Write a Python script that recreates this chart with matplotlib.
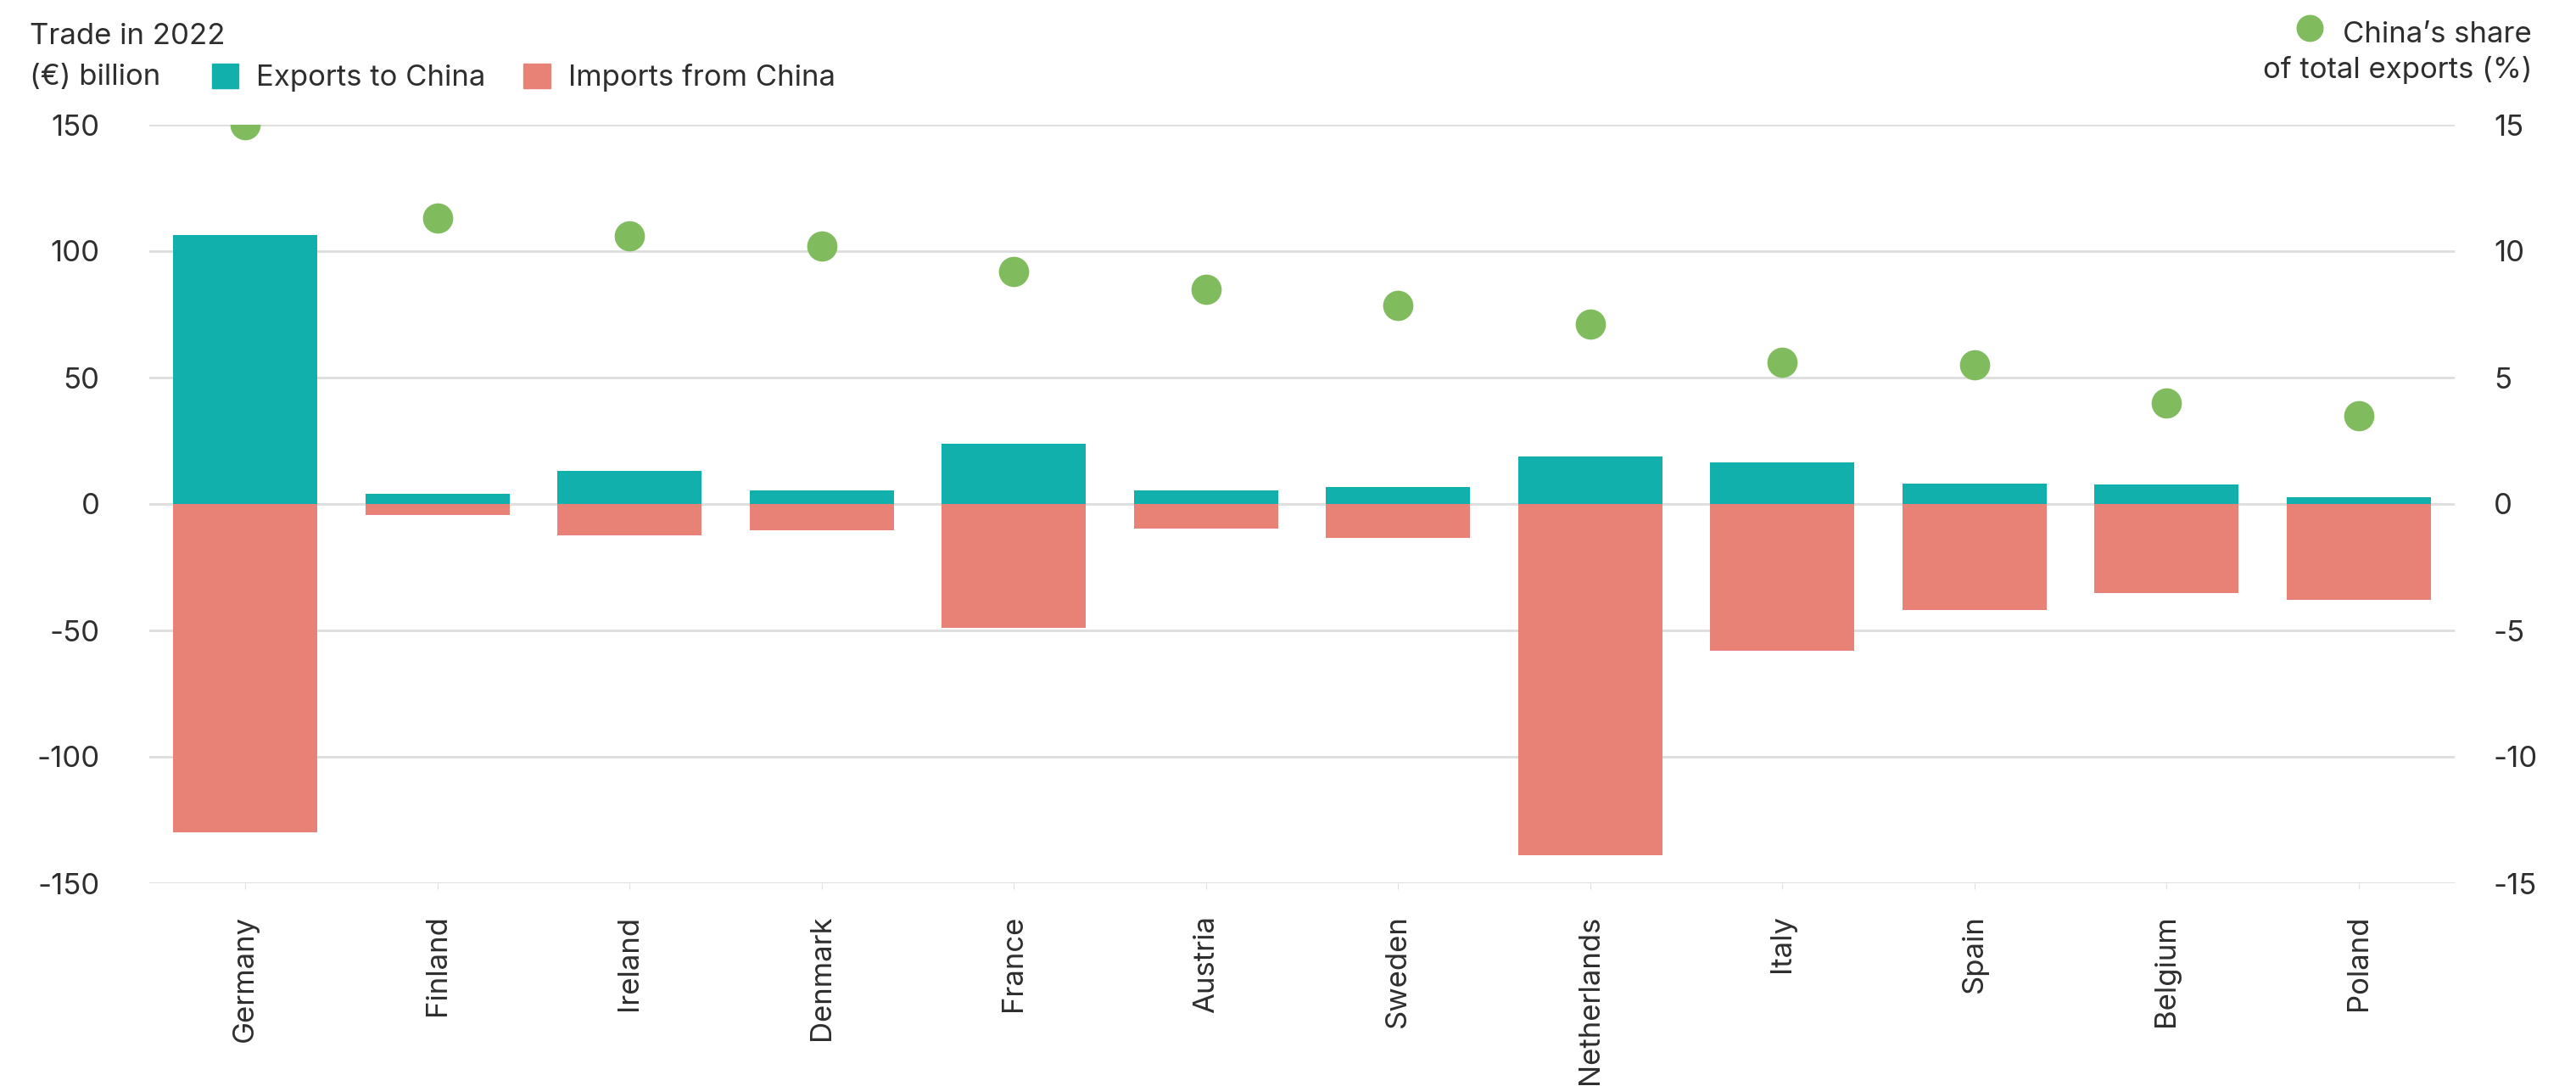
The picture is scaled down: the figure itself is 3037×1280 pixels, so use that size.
import matplotlib.pyplot as plt
from matplotlib.patches import Patch
from matplotlib.lines import Line2D

# data
countries = ['Germany', 'Finland', 'Ireland', 'Denmark', 'France', 'Austria',
             'Sweden', 'Netherlands', 'Italy', 'Spain', 'Belgium', 'Poland']
exports = [106.5, 4.0, 13.0, 5.5, 23.7, 5.3, 6.6, 18.7, 16.4, 7.9, 7.6, 2.8]
imports = [-130.0, -4.5, -12.5, -10.5, -49.0, -9.6, -13.5, -139.0, -58.0, -42.0, -35.3, -38.0]
share = [15.0, 11.3, 10.6, 10.2, 9.2, 8.5, 7.85, 7.1, 5.6, 5.5, 4.0, 3.5]

teal = '#12B0AC'
salmon = '#E88277'
green = '#80BC5E'
txt = '#2e2e2e'
grid = '#dddddd'
fs = 25

plt.rcParams['font.family'] = ['Inter', 'DejaVu Sans']
plt.rcParams['font.size'] = fs

fig = plt.figure(figsize=(30.37, 12.8), dpi=100)
ax = fig.add_axes([176 / 3037, 1 - 1041 / 1280, (2894 - 176) / 3037, (1041 - 147) / 1280])

x = range(len(countries))
b1 = ax.bar(x, exports, width=0.75, color=teal, zorder=2)
b2 = ax.bar(x, imports, width=0.75, color=salmon, zorder=2)

ax.set_xlim(-0.5, 11.5)
ax.set_ylim(-150, 150)
ax.set_yticks([-150, -100, -50, 0, 50, 100, 150])
ax.set_yticklabels(['-150', '-100', '-50', '0', '50', '100', '150'])
ax.grid(axis='y', color=grid, linewidth=2, zorder=0)
ax.set_axisbelow(True)
for s in ax.spines.values():
    s.set_visible(False)
ax.tick_params(axis='y', length=0, pad=42, labelcolor=txt, labelsize=fs)
ax.set_xticks(list(x))
ax.set_xticklabels(countries, rotation=90, color=txt, fontsize=fs)
ax.tick_params(axis='x', length=5, color=grid, pad=22)

ax2 = ax.twinx()
ax2.set_ylim(-15, 15)
ax2.set_yticks([-15, -10, -5, 0, 5, 10, 15])
ax2.set_yticklabels(['-15', '-10', '-5', '0', '5', '10', '15'])
ax2.tick_params(axis='y', length=0, pad=33, labelcolor=txt, labelsize=fs)
for s in ax2.spines.values():
    s.set_visible(False)
ax2.scatter(list(x), share, s=660, color=green, zorder=3, linewidths=0)

# header text and legends
fig.text(35 / 3037, 1 - 52 / 1280, 'Trade in 2022', color=txt, fontsize=fs, va='baseline')
fig.text(35 / 3037, 1 - 100 / 1280, '(€) billion', color=txt, fontsize=fs, va='baseline')

handles = [Patch(color=teal, label='Exports to China'),
           Patch(color=salmon, label='Imports from China')]
fig.legend(handles=handles, loc='lower left', bbox_to_anchor=(236 / 3037, 1 - 122 / 1280),
           ncol=2, frameon=False, fontsize=fs, handlelength=0.9, handleheight=0.9,
           handletextpad=0.6, columnspacing=1.3, labelcolor=txt, borderaxespad=0)

fig.text(2985 / 3037, 1 - 50 / 1280, 'China\u2019s share', color=txt, fontsize=fs,
         ha='right', va='baseline')
fig.text(2985 / 3037, 1 - 92 / 1280, 'of total exports (%)', color=txt, fontsize=fs,
         ha='right', va='baseline')
dot = Line2D([], [], marker='o', linestyle='', color=green, markersize=22)
fig.legend(handles=[dot], labels=[''], loc='center', bbox_to_anchor=(2737 / 3037, 1 - 36 / 1280),
           frameon=False, handlelength=1, borderpad=0, borderaxespad=0)

fig.savefig('out.png', dpi=100, facecolor='white')
